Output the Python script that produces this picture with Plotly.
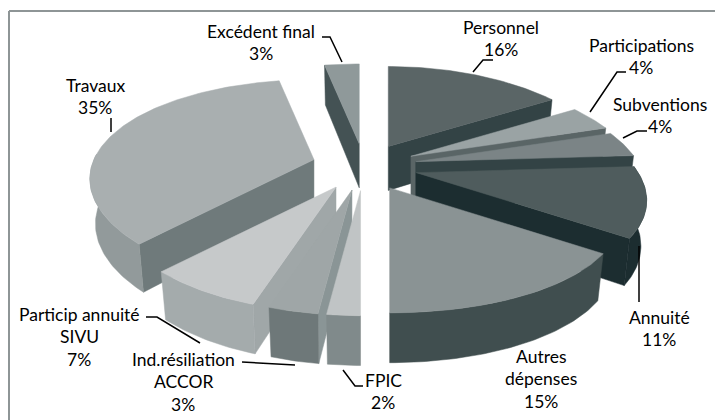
import math
import plotly.graph_objects as go

# ---- data -------------------------------------------------------------
categories = ["Personnel", "Participations", "Subventions", "Annuité", "Autres dépenses",
              "FPIC", "Ind.résiliation ACCOR", "Particip annuité SIVU", "Travaux", "Excédent final"]
values = [16, 4, 4, 11, 15, 2, 3, 7, 35, 3]

# ---- styles -----------------------------------------------------------
top_colors = ["#5a6566", "#9aa3a4", "#7b8486", "#4f5c5d", "#8a9394",
              "#c0c4c5", "#9fa6a7", "#c6c9ca", "#a9afb0", "#8f999a"]
wall_colors = ["#334345", "#5a6566", "#334345", "#1c2d30", "#404e4f",
               "#808a8b", "#6e7879", "#a4abac", "#929a9b", "#445254"]
cut_colors = ["#334345", "#5a6566", "#334345", "#1c2d30", "#404e4f",
              "#808a8b", "#8a9596", "#a0a7a8", "#6f7a7b", "#445254"]
paint_order = [9, 0, 8, 1, 2, 3, 7, 6, 5, 4]

# label lines: (slice index, text-line list, centre x, first-line y)
label_lines = [["Personnel"], ["Participations"], ["Subventions"], ["Annuité"], ["Autres", "dépenses"],
               ["FPIC"], ["Ind.résiliation", "ACCOR"], ["Particip annuité", "SIVU"], ["Travaux"], ["Excédent final"]]
label_x = [501, 641, 660, 659, 541, 383, 183, 79, 95, 261]
label_y = [27, 45, 104, 317, 356, 380, 359, 314, 85, 31]
LINE_GAP = 22.7
leaders = [
    [(473, 72), (483, 60), (493, 60)],
    [(590, 112), (617, 72), (626, 72)],
    [(623, 138), (637, 131), (647, 131)],
    [(639, 246), (639, 302)],
    [],
    [(343, 370), (355, 386), (363, 386)],
    [(242, 362), (295, 365)],
    [(146, 317), (157, 317), (200, 343)],
    [(111, 118), (111, 132)],
    [(322, 37), (330, 37), (342, 62)],
]

# ---- projection of the tilted, exploded pie ----------------------------
CX, CY = 364, 166
A_RIGHT, KX_RIGHT = 222, 0.27
A_LEFT, KX_LEFT = 220, 0.19
B, K = 97.5, 0.22
PULL = 0.24
DEPTH = 44


def proj(u, v):
    a, kx = (A_RIGHT, KX_RIGHT) if u >= 0 else (A_LEFT, KX_LEFT)
    return a * u / (1 + kx * v), -B * v / (1 + K * v)


def drop(ax, x, y, v):
    s = 1 / (1 + K * v)
    return ax + (x - ax) * 0.975, y + DEPTH * math.sqrt(s)


fig = go.Figure()


def poly(xs, ys, color):
    fig.add_trace(go.Scatter(x=xs, y=ys, mode="lines", fill="toself", fillcolor=color,
                             line=dict(color=color, width=0.5), hoverinfo="skip", showlegend=False))


total = sum(values)
starts = [sum(values[:i]) / total * 360 for i in range(len(values))]

for i in paint_order:
    t0 = starts[i]
    t1 = t0 + values[i] / total * 360
    mid = math.radians((t0 + t1) / 2)
    dx, dy = proj(PULL * math.sin(mid), PULL * math.cos(mid))
    ax, ay = CX + dx, CY + dy
    n = max(6, int(t1 - t0))
    angles = [math.radians(t0 + (t1 - t0) * k / n) for k in range(n + 1)]
    arc = []
    for th in angles:
        px, py = proj(math.sin(th), math.cos(th))
        arc.append((ax + px, ay + py, math.cos(th)))
    low_apex = drop(ax, ax, ay, 0)

    # cut faces
    if math.sin(angles[-1]) > 1e-6:
        x, y, v = arc[-1]
        bx, by = drop(ax, x, y, v)
        poly([ax, x, bx, low_apex[0], ax], [ay, y, by, low_apex[1], ay], cut_colors[i])
    if math.sin(angles[0]) < -1e-6:
        x, y, v = arc[0]
        bx, by = drop(ax, x, y, v)
        poly([ax, x, bx, low_apex[0], ax], [ay, y, by, low_apex[1], ay], cut_colors[i])

    # outer wall
    vis = [p for p in arc if p[2] < 0.07]
    if len(vis) > 1:
        low = [drop(ax, p[0], p[1], p[2]) for p in vis]
        xs = [p[0] for p in vis] + [p[0] for p in reversed(low)]
        ys = [p[1] for p in vis] + [p[1] for p in reversed(low)]
        poly(xs + xs[:1], ys + ys[:1], wall_colors[i])

    # top face
    xs = [ax] + [p[0] for p in arc] + [ax]
    ys = [ay] + [p[1] for p in arc] + [ay]
    poly(xs, ys, top_colors[i])

# leader lines
for pts in leaders:
    if pts:
        fig.add_trace(go.Scatter(x=[p[0] for p in pts], y=[p[1] for p in pts], mode="lines",
                                 line=dict(color="#000000", width=1.5), hoverinfo="skip", showlegend=False))

# labels
annotations = []
for i, lines in enumerate(label_lines):
    rows = lines + [f"{values[i]}%"]
    for j, row in enumerate(rows):
        annotations.append(dict(x=label_x[i], y=label_y[i] + j * LINE_GAP, text=row, showarrow=False,
                                xref="x", yref="y", xanchor="center", yanchor="middle",
                                font=dict(family="Lato", size=17.5, color="#000000")))

frame = [
    dict(type="line", xref="x", yref="y", x0=9, y0=11, x1=715, y1=11, line=dict(color="#8e9596", width=2)),
    dict(type="line", xref="x", yref="y", x0=9, y0=11, x1=9, y1=420, line=dict(color="#8e9596", width=2)),
]

fig.update_layout(
    width=715, height=420, margin=dict(l=0, r=0, t=0, b=0),
    paper_bgcolor="#ffffff", plot_bgcolor="#ffffff", showlegend=False,
    xaxis=dict(range=[0, 715], visible=False, fixedrange=True),
    yaxis=dict(range=[420, 0], visible=False, fixedrange=True),
    annotations=annotations, shapes=frame,
)
fig.write_html("out.html", config={"displayModeBar": False},
               post_script="document.body.style.margin='0';")
